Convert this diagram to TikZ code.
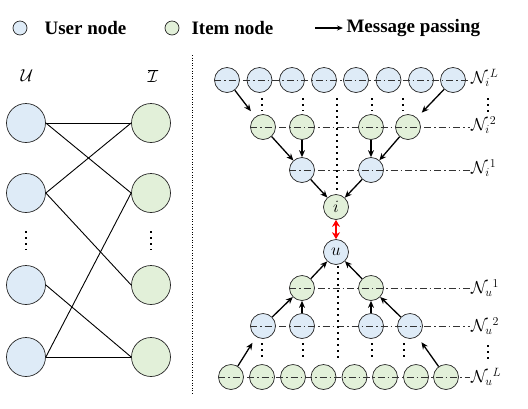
\documentclass[tikz,border=0pt]{standalone}
\usepackage{fontspec}
\setmainfont{Liberation Serif}
\usetikzlibrary{arrows.meta}
\definecolor{userfill}{HTML}{DEEBF7}
\definecolor{itemfill}{HTML}{E2F0D9}
\tikzset{
  unode/.style={circle, draw=black!85, fill=userfill, line width=0.7pt, minimum size=25pt, inner sep=0pt, font=\fontsize{16}{18}\selectfont},
  inode/.style={unode, fill=itemfill},
  bignode/.style={minimum size=39pt},
  msg/.style={-{Stealth[length=7pt,width=6pt]}, line width=1.3pt},
  edge/.style={line width=0.9pt},
  layer/.style={dash pattern=on 7pt off 3pt on 1.5pt off 3pt, line width=0.7pt, black!80},
  dotcol/.style={line width=2pt, dash pattern=on 2pt off 4pt},
  lbl/.style={anchor=west, inner sep=1pt, font=\fontsize{17}{19}\selectfont},
}
\begin{document}
\begin{tikzpicture}[x=1pt, y=-1pt]
\useasboundingbox (0,0) rectangle (528,408);
% legend
\node[unode, minimum size=14pt] (legu) at (20,28) {};
\node[anchor=west, font=\fontsize{19}{22}\selectfont\bfseries] (legut) at (41,28) {User node};
\node[inode, minimum size=14pt] (legi) at (172,28) {};
\node[anchor=west, font=\fontsize{19}{22}\selectfont\bfseries] (legit) at (188,28) {Item node};
\coordinate (lega) at (315,28);
\node[anchor=west, font=\fontsize{19}{22}\selectfont\bfseries] (legmt) at (343,28) {Message passing};
\draw[-{Stealth[length=6pt,width=5pt]}, line width=1.3pt] (lega) -- (legmt.west);

% bipartite graph
\node[font=\fontsize{19}{22}\selectfont] (setu) at (27,76) {$\mathcal{U}$};
\node[font=\fontsize{19}{22}\selectfont] (seti) at (153,76) {$\overline{\mathcal{I}}$};
\foreach \n/\y in {1/123, 2/193, 3/285, 4/357} {
  \node[unode, bignode] (u\n) at (26,\y) {};
  \node[inode, bignode] (i\n) at (151,\y) {};
}
\draw[dotcol] (26,231) -- (26,250);
\draw[dotcol] (151,231) -- (151,250);
\draw[edge] (u1.east) -- (i1.west);
\draw[edge] (u1.east) -- (i2.west);
\draw[edge] (u2.east) -- (i1.west);
\draw[edge] (u2.east) -- (i3.west);
\draw[edge] (u3.east) -- (i4.west);
\draw[edge] (u4.east) -- (i2.west);
\draw[edge] (u4.east) -- (i4.west);
\draw[dotted, line width=0.6pt] (192,55) -- (192,395);

% neighbourhood of item i
\foreach \n/\x in {1/227, 2/259.5, 3/292, 4/324, 5/356, 6/388.5, 7/421, 8/453}
  \node[unode] (t\n) at (\x,80) {};
\foreach \n/\x in {1/263, 2/302, 3/371, 4/408}
  \node[inode] (iA\n) at (\x,127) {};
\node[unode] (iB1) at (302,170) {};
\node[unode] (iB2) at (371,170) {};
\node[inode] (ci) at (336,207) {$i$};
\node[lbl] (niL) at (470,78) {$\mathcal{N}_i{}^{L}$};
\node[lbl] (ni2) at (470,125) {$\mathcal{N}_i{}^{2}$};
\node[lbl] (ni1) at (470,168) {$\mathcal{N}_i{}^{1}$};
\draw[layer] (t1.west) -- (niL.west |- t1);
\draw[layer] (iA1.west) -- (ni2.west |- iA1);
\draw[layer] (iB1.west) -- (ni1.west |- iB1);
\foreach \x in {262, 303, 372, 403}
  \draw[dotcol] (\x,98) -- (\x,111);
\draw[dotcol] (337,98) -- (337,190);
\draw[dotcol] (488,98) -- (488,112);
\draw[msg, shorten >=7pt] (t1) -- (iA1);
\draw[msg, shorten >=7pt] (t8) -- (iA4);
\draw[msg] (iA1) -- (iB1);
\draw[msg] (iA2) -- (iB1);
\draw[msg] (iA3) -- (iB2);
\draw[msg] (iA4) -- (iB2);
\draw[msg] (iB1) -- (ci);
\draw[msg] (iB2) -- (ci);

% neighbourhood of user u
\node[unode] (cu) at (336,252) {$u$};
\draw[{Stealth[length=7pt,width=8pt]}-{Stealth[length=7pt,width=8pt]}, red, line width=1.5pt] (ci) -- (cu);
\node[inode] (uA1) at (302,288) {};
\node[inode] (uA2) at (371,288) {};
\foreach \n/\x in {1/263, 2/302, 3/371, 4/410}
  \node[unode] (uB\n) at (\x,326) {};
\foreach \n/\x in {1/231, 2/262, 3/293, 4/323.5, 5/354.5, 6/385, 7/416, 8/446}
  \node[inode] (uC\n) at (\x,377) {};
\node[lbl] (nu1) at (470,288) {$\mathcal{N}_u{}^{1}$};
\node[lbl] (nu2) at (470,326) {$\mathcal{N}_u{}^{2}$};
\node[lbl] (nuL) at (470,377) {$\mathcal{N}_u{}^{L}$};
\draw[layer] (uA1.west) -- (nu1.west |- uA1);
\draw[layer] (uB1.west) -- (nu2.west |- uB1);
\draw[layer] (uC1.west) -- (nuL.west |- uC1);
\foreach \x in {262, 303, 372, 404}
  \draw[dotcol] (\x,343) -- (\x,358);
\draw[dotcol] (338,266) -- (338,358);
\draw[dotcol] (488,345) -- (488,359);
\draw[msg, shorten >=7pt] (uC1) -- (uB1);
\draw[msg, shorten >=7pt] (uC8) -- (uB4);
\draw[msg] (uB1) -- (uA1);
\draw[msg] (uB2) -- (uA1);
\draw[msg] (uB3) -- (uA2);
\draw[msg] (uB4) -- (uA2);
\draw[msg] (uA1) -- (cu);
\draw[msg] (uA2) -- (cu);
\end{tikzpicture}
\end{document}
